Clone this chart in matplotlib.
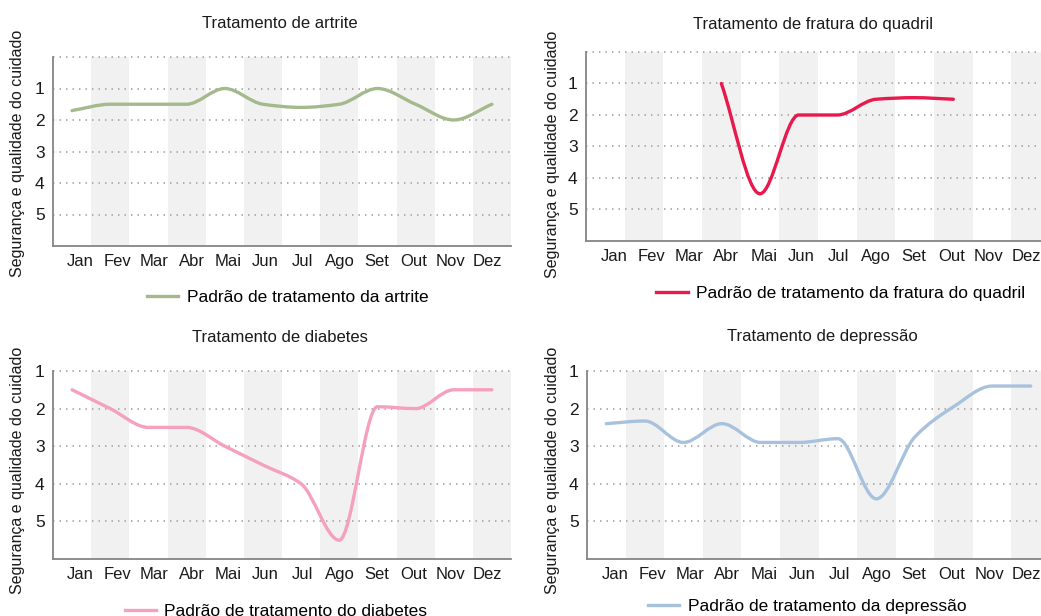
import matplotlib
matplotlib.use("Agg")
import matplotlib.pyplot as plt
import numpy as np
from matplotlib.path import Path
from matplotlib.patches import PathPatch
from matplotlib.lines import Line2D

plt.rcParams["font.family"] = ["Liberation Sans", "DejaVu Sans"]

MONTHS = ["Jan", "Fev", "Mar", "Abr", "Mai", "Jun", "Jul", "Ago", "Set", "Out", "Nov", "Dez"]
Y_LABEL = "Segurança e qualidade do cuidado"

# series values (1 = best, lower on chart = worse)
artrite_months = MONTHS
artrite_vals = [1.7, 1.5, 1.5, 1.5, 1.0, 1.5, 1.6, 1.5, 1.0, 1.5, 2.0, 1.5]

fratura_months = ["Abr", "Mai", "Jun", "Jul", "Ago", "Set", "Out"]
fratura_vals = [1.0, 4.5, 2.0, 2.0, 1.5, 1.45, 1.5]

diabetes_months = MONTHS
diabetes_vals = [1.5, 2.0, 2.5, 2.5, 3.0, 3.5, 4.0, 5.5, 1.95, 2.0, 1.5, 1.5]

depressao_months = MONTHS
depressao_vals = [2.4, 2.33, 2.9, 2.4, 2.9, 2.9, 2.8, 4.4, 2.75, 1.95, 1.4, 1.4]

GREEN = "#a4b98c"
RED = "#e8194d"
PINK = "#f5a0be"
BLUE = "#a8c2de"
BAND = "#f1f1f1"
SPINE = "#858585"
GRID = "#a8a8a8"


def smooth_path(xs, ys):
    """monotone cubic (Fritsch-Carlson) as bezier segments"""
    xs = np.asarray(xs, float); ys = np.asarray(ys, float)
    n = len(xs)
    h = np.diff(xs); d = np.diff(ys) / h
    m = np.zeros(n)
    m[0], m[-1] = d[0], d[-1]
    for i in range(1, n - 1):
        if d[i - 1] * d[i] <= 0:
            m[i] = 0
        else:
            m[i] = 2 / (1 / d[i - 1] + 1 / d[i])
    verts = [(xs[0], ys[0])]
    codes = [Path.MOVETO]
    for i in range(n - 1):
        verts += [(xs[i] + h[i] / 3, ys[i] + m[i] * h[i] / 3),
                  (xs[i + 1] - h[i] / 3, ys[i + 1] - m[i + 1] * h[i] / 3),
                  (xs[i + 1], ys[i + 1])]
        codes += [Path.CURVE4] * 3
    return Path(verts, codes)


def panel(rect, months, vals, color, ymin, title, tpos, ylpos, legend_txt, lpos):
    ax = fig.add_axes(rect)
    for i in range(1, 12, 2):
        ax.axvspan(i - 0.5, i + 0.5, color=BAND, lw=0, zorder=0)
    for g in range(ymin, 6):
        ax.axhline(g, color=GRID, lw=1.3, ls=(0, (0.8, 2.8)), zorder=1, clip_on=False)
    xs = [MONTHS.index(m) for m in months]
    ax.add_patch(PathPatch(smooth_path(xs, vals), fill=False, edgecolor=color,
                           lw=2.4, capstyle="round", zorder=3))
    ax.set_xlim(-0.5, 11.5)
    ax.set_ylim(6, ymin)
    # labels sit a little right of the band centres in the original
    ax.set_xticks(0.22 + 0.97 * np.arange(12))
    ax.set_xticklabels(MONTHS, fontsize=12, color="#1a1a1a")
    ax.set_yticks([1, 2, 3, 4, 5])
    ax.set_yticklabels(["1", "2", "3", "4", "5"], fontsize=12.5, color="#1a1a1a")
    ax.tick_params(length=0)
    ax.tick_params(axis="x", pad=6)
    ax.tick_params(axis="y", pad=6)
    for s in ["top", "right"]:
        ax.spines[s].set_visible(False)
    for s in ["left", "bottom"]:
        ax.spines[s].set_color(SPINE)
        ax.spines[s].set_linewidth(1.3)
    fig.text(tpos[0], tpos[1], title, fontsize=12, ha="center", va="center", color="#1a1a1a")
    fig.text(ylpos[0], ylpos[1], Y_LABEL, fontsize=11.5, rotation=90,
             ha="center", va="center", color="#1a1a1a")
    h = Line2D([0], [0], color=color, lw=2.4)
    fig.legend(handles=[h], labels=[legend_txt], loc="center", bbox_to_anchor=lpos,
               frameon=False, fontsize=12.5, handlelength=1.8, handletextpad=0.5,
               borderaxespad=0, borderpad=0)
    return ax


W, H = 1041, 616
fig = plt.figure(figsize=(W / 100, H / 100), dpi=100)


def r(l, rt, t, b):
    return [l / W, 1 - b / H, (rt - l) / W, (b - t) / H]


panel(r(53, 511, 57, 246), artrite_months, artrite_vals, GREEN, 0,
      "Tratamento de artrite", (280 / W, 1 - 23 / H), (18 / W, 1 - 153 / H),
      "Padrão de tratamento da artrite", (288 / W, 1 - 297 / H))
panel(r(586, 1050, 52, 241), fratura_months, fratura_vals, RED, 0,
      "Tratamento de fratura do quadril", (813 / W, 1 - 24 / H), (553 / W, 1 - 154 / H),
      "Padrão de tratamento da fratura do quadril", (841 / W, 1 - 293 / H))
panel(r(53, 511, 371, 559), diabetes_months, diabetes_vals, PINK, 1,
      "Tratamento de diabetes", (280 / W, 1 - 337 / H), (18 / W, 1 - 470 / H),
      "Padrão de tratamento do diabetes", (276 / W, 1 - 611 / H))
panel(r(587, 1050, 371, 559), depressao_months, depressao_vals, BLUE, 1,
      "Tratamento de depressão", (822 / W, 1 - 337 / H), (553 / W, 1 - 470 / H),
      "Padrão de tratamento da depressão", (807 / W, 1 - 606 / H))

fig.savefig("out.png", dpi=100)
